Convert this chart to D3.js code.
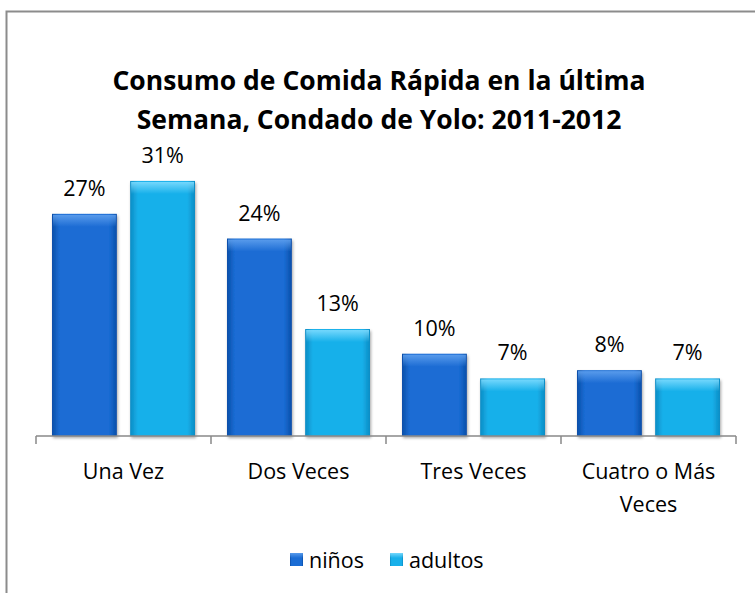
<!DOCTYPE html>
<html>
<head>
<meta charset="utf-8">
<script src="https://cdn.jsdelivr.net/npm/d3@7"></script>
<style>
  body { margin: 0; background: #fff; }
  text { font-family: "Open Sans", "Noto Sans", sans-serif; }
</style>
</head>
<body>
<svg id="chart" width="755" height="593"></svg>
<script>
var categories = ["Una Vez", "Dos Veces", "Tres Veces", "Cuatro o Más Veces"];
var series = ["niños", "adultos"];
var ninos = [27, 24, 10, 8];
var adultos = [31, 13, 7, 7];
var titleLines = ["Consumo de Comida Rápida en la última", "Semana, Condado de Yolo: 2011-2012"];

let width = 755;
let height = 593;

let svg = d3.select("#chart");

// frame
svg.append("rect")
  .attr("x", 6.5).attr("y", 11.5)
  .attr("width", 760).attr("height", 600)
  .attr("fill", "#fff")
  .attr("stroke", "#8c8c8c")
  .attr("stroke-width", 2);

let defs = svg.append("defs");
function makeGrad(id, dark, mid, light) {
  let g = defs.append("linearGradient").attr("id", id)
    .attr("x1", 0).attr("x2", 1).attr("y1", 0).attr("y2", 0);
  g.append("stop").attr("offset", "0%").attr("stop-color", dark);
  g.append("stop").attr("offset", "12%").attr("stop-color", mid);
  g.append("stop").attr("offset", "88%").attr("stop-color", mid);
  g.append("stop").attr("offset", "100%").attr("stop-color", dark);
  let v = defs.append("linearGradient").attr("id", id + "v")
    .attr("x1", 0).attr("x2", 0).attr("y1", 0).attr("y2", 1);
  v.append("stop").attr("offset", "0%").attr("stop-color", light).attr("stop-opacity", 0.9);
  v.append("stop").attr("offset", "100%").attr("stop-color", light).attr("stop-opacity", 0);
}
makeGrad("gN", "#0a4ea8", "#1a6cd4", "#5fa0ee");
makeGrad("gA", "#0a8cc4", "#18b0ea", "#7fdcff");

let shadow = defs.append("filter").attr("id", "sh")
  .attr("x", "-20%").attr("y", "-20%").attr("width", "140%").attr("height", "140%");
shadow.append("feDropShadow").attr("dx", 1).attr("dy", 2).attr("stdDeviation", 1.5)
  .attr("flood-color", "#000").attr("flood-opacity", 0.35);

// title
svg.append("g").selectAll("text")
  .data(titleLines)
  .enter().append("text")
  .attr("x", 379)
  .attr("y", (d, i) => 90 + i * 39)
  .attr("text-anchor", "middle")
  .attr("font-size", 26.5)
  .attr("font-weight", "bold")
  .attr("fill", "#000")
  .text(d => d);

let x0 = d3.scaleBand().domain(categories).range([36, 736]).paddingInner(0).paddingOuter(0);
let x1 = d3.scaleBand().domain(series).range([16, 159]).paddingInner(0.17);
let y = d3.scaleLinear().domain([0, 35]).range([436, 148]);

let rows = [];
categories.forEach((c, i) => {
  rows.push({ cat: c, s: "niños", v: ninos[i], grad: "gN" });
  rows.push({ cat: c, s: "adultos", v: adultos[i], grad: "gA" });
});

let bars = svg.append("g").selectAll("g.bar")
  .data(rows)
  .enter().append("g")
  .attr("class", "bar")
  .attr("transform", d => "translate(" + (x0(d.cat) + x1(d.s)) + ",0)");

bars.append("rect")
  .attr("x", 0)
  .attr("y", d => y(d.v))
  .attr("width", x1.bandwidth())
  .attr("height", d => y(0) - y(d.v))
  .attr("fill", d => "url(#" + d.grad + ")")
  .attr("filter", "url(#sh)");

// top bevel
bars.append("rect")
  .attr("x", 1)
  .attr("y", d => y(d.v) + 1)
  .attr("width", x1.bandwidth() - 2)
  .attr("height", 12)
  .attr("fill", d => "url(#" + d.grad + "v)");

// value labels
bars.append("text")
  .attr("x", x1.bandwidth() / 2)
  .attr("y", d => y(d.v) - 18)
  .attr("text-anchor", "middle")
  .attr("font-size", 21.5)
  .attr("fill", "#000")
  .text(d => d.v + "%");

// axis
let axis = svg.append("g")
  .attr("transform", "translate(0,436)")
  .call(d3.axisBottom(x0).tickSize(0).tickFormat(""));
axis.select(".domain").attr("stroke", "#888").attr("stroke-width", 1.5).attr("d", "M36,0H736");
axis.selectAll(".tick").remove();
let edges = d3.range(categories.length + 1).map(i => 36 + i * x0.bandwidth());
axis.selectAll("line.tk").data(edges).enter().append("line")
  .attr("x1", d => d).attr("x2", d => d)
  .attr("y1", 0).attr("y2", 8)
  .attr("stroke", "#888").attr("stroke-width", 1.5);

// category labels
let catLabels = [["Una Vez"], ["Dos Veces"], ["Tres Veces"], ["Cuatro o Más", "Veces"]];
let cl = svg.append("g").selectAll("text")
  .data(categories)
  .enter().append("text")
  .attr("x", d => x0(d) + x0.bandwidth() / 2)
  .attr("y", 479)
  .attr("text-anchor", "middle")
  .attr("font-size", 21.5)
  .attr("fill", "#000");
cl.each(function(d, i) {
  d3.select(this).selectAll("tspan")
    .data(catLabels[i])
    .enter().append("tspan")
    .attr("x", x0(d) + x0.bandwidth() / 2)
    .attr("dy", (t, j) => j === 0 ? 0 : 33)
    .text(t => t);
});

// legend
let legend = svg.append("g").attr("transform", "translate(290,560)");
let legItems = [{ s: "niños", g: "gN", x: 0 }, { s: "adultos", g: "gA", x: 100 }];
let li = legend.selectAll("g").data(legItems).enter().append("g")
  .attr("transform", d => "translate(" + d.x + ",0)");
li.append("rect").attr("x", 0).attr("y", -7).attr("width", 13).attr("height", 13)
  .attr("fill", d => "url(#" + d.g + ")");
li.append("rect").attr("x", 0).attr("y", -7).attr("width", 13).attr("height", 5)
  .attr("fill", d => "url(#" + d.g + "v)");
li.append("text").attr("x", 19).attr("y", 8)
  .attr("font-size", 21.5).attr("fill", "#000")
  .text(d => d.s);
</script>
</body>
</html>
